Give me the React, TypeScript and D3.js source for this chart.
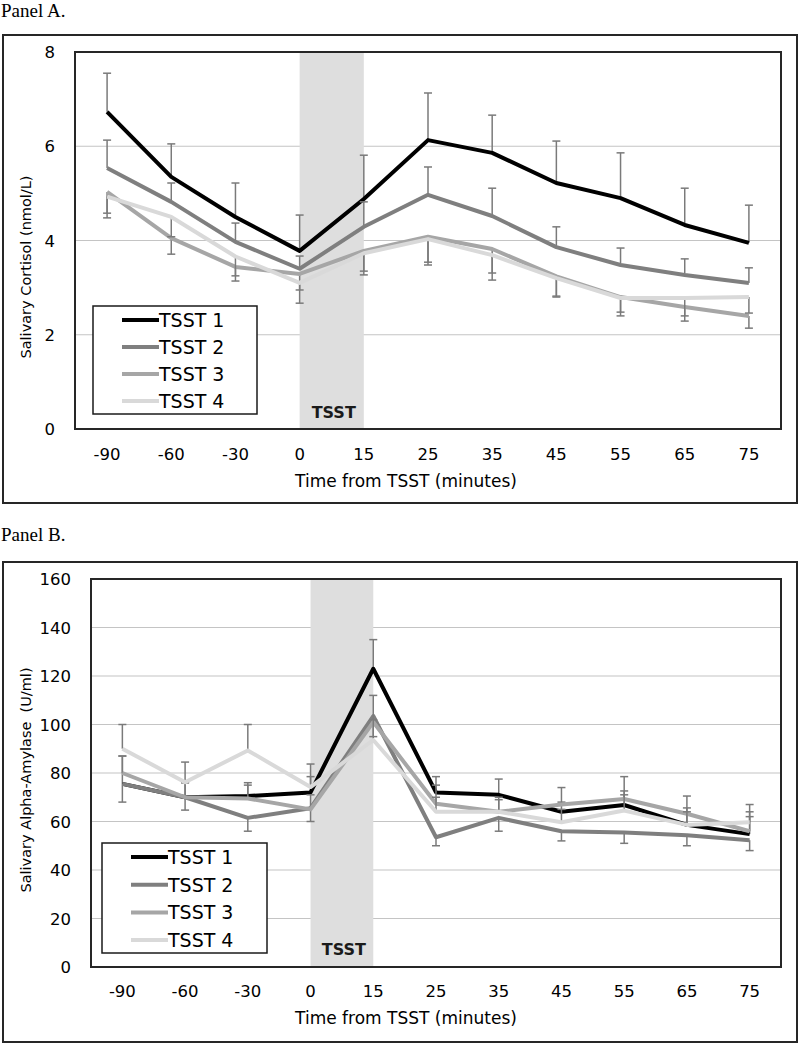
import React, { useRef, useEffect } from 'react';
import * as d3 from 'd3';

// shared categories
const timeLabels = ['-90', '-60', '-30', '0', '15', '25', '35', '45', '55', '65', '75'];
const seriesNames = ['TSST 1', 'TSST 2', 'TSST 3', 'TSST 4'];
const seriesColors = ['#000000', '#7f7f7f', '#a6a6a6', '#d9d9d9'];

// Panel A: salivary cortisol (nmol/L)
const cortisolTicks = [0, 2, 4, 6, 8];
const cortisol1 = [6.73, 5.35, 4.5, 3.78, 4.88, 6.13, 5.86, 5.22, 4.9, 4.33, 3.95];
const cortisol2 = [5.54, 4.82, 3.97, 3.4, 4.29, 4.97, 4.52, 3.86, 3.48, 3.27, 3.1];
const cortisol3 = [5.03, 4.05, 3.44, 3.29, 3.78, 4.08, 3.82, 3.24, 2.8, 2.59, 2.4];
const cortisol4 = [4.93, 4.5, 3.66, 3.1, 3.73, 4.03, 3.69, 3.2, 2.78, 2.78, 2.8];
// error bar end points
const cortisolErr1 = [7.55, 6.05, 5.22, 4.54, 5.81, 7.13, 6.66, 6.11, 5.86, 5.11, 4.75];
const cortisolErr2 = [6.13, 5.22, 4.37, 3.67, 4.82, 5.56, 5.11, 4.29, 3.84, 3.61, 3.42];
const cortisolErr3 = [4.48, 3.71, 3.14, 2.95, 3.27, 3.48, 3.16, 2.8, 2.4, 2.29, 2.14];
const cortisolErr4 = [4.58, 4.08, 3.25, 2.67, 3.35, 3.54, 3.31, 2.82, 2.48, 2.4, 2.46];

// Panel B: salivary alpha-amylase (U/ml)
const amylaseTicks = [0, 20, 40, 60, 80, 100, 120, 140, 160];
const amylase1 = [75.5, 70, 70.5, 72, 123, 72, 71, 64, 66.8, 58.6, 54.8];
const amylase2 = [75.5, 70, 61.5, 65.5, 103.5, 53.5, 61.5, 56, 55.5, 54.3, 52.3];
const amylase3 = [80, 70, 69.5, 65, 101, 67.3, 64, 67, 69.3, 63.2, 56];
const amylase4 = [90, 76.2, 89.3, 74.2, 93.6, 64, 64, 59.7, 64.5, 58.6, 59.7];
const amylaseErr1 = [87, 76, 76, 78.5, 135, 78.5, 77.5, 68, 72.6, 65.6, 62];
const amylaseErr2 = [68, 64.7, 56, 60, 95, 50, 56, 52, 51, 50, 48];
const amylaseErr3 = [87, 76, 75, 71, 112, 75, 70, 74, 78.5, 70.5, 67];
const amylaseErr4 = [100, 84.5, 100, 83.7, 102, 70, 69, 65, 71, 64, 64];

const FONT = '"DejaVu Sans", Verdana, sans-serif';

interface PanelSpec {
  title: string;
  titleY: number;
  frame: { x: number; y: number; w: number; h: number };
  plot: { left: number; top: number; right: number; bottom: number };
  ticks: number[];
  values: number[][];
  errs: number[][];
  yTitle: string;
  yTitleY: number;
  tickLabelRight: number;
  xLabelY: number;
  xTitleY: number;
  legend: { x: number; y: number; w: number; h: number; row0: number; step: number };
  tsstLabelY: number;
}

function drawPanel(svg: d3.Selection<SVGSVGElement, unknown, null, undefined>, p: PanelSpec) {
  const g = svg.append('g');

  g.append('rect')
    .attr('x', p.frame.x).attr('y', p.frame.y)
    .attr('width', p.frame.w).attr('height', p.frame.h)
    .attr('fill', '#fff').attr('stroke', '#262626').attr('stroke-width', 2);

  g.append('text')
    .attr('x', 1).attr('y', p.titleY)
    .attr('font-family', '"Liberation Serif", "Times New Roman", serif')
    .attr('font-size', 19)
    .text(p.title);

  const x = d3.scaleBand<string>()
    .domain(timeLabels)
    .range([p.plot.left, p.plot.right])
    .padding(0);
  const cx = (d: string) => (x(d) as number) + x.bandwidth() / 2;

  const yMax = p.ticks[p.ticks.length - 1];
  const y = d3.scaleLinear().domain([0, yMax]).range([p.plot.bottom, p.plot.top]);

  // gridlines
  g.selectAll('.grid')
    .data(p.ticks.filter(t => t > 0 && t < yMax))
    .enter().append('line')
    .attr('x1', p.plot.left).attr('x2', p.plot.right)
    .attr('y1', d => y(d)).attr('y2', d => y(d))
    .attr('stroke', '#c4c4c4').attr('stroke-width', 1.2);

  // TSST shading
  g.append('rect')
    .attr('x', cx('0')).attr('y', p.plot.top + 1)
    .attr('width', cx('15') - cx('0'))
    .attr('height', p.plot.bottom - p.plot.top - 1)
    .attr('fill', '#dedede');

  g.append('text')
    .attr('x', (cx('0') + cx('15')) / 2 + 2).attr('y', p.tsstLabelY)
    .attr('text-anchor', 'middle')
    .attr('font-family', FONT).attr('font-size', 16).attr('font-weight', 'bold')
    .attr('fill', '#1a1a1a')
    .text('TSST');

  const line = d3.line<number>()
    .x((_, i) => cx(timeLabels[i]))
    .y(d => y(d));

  p.values.forEach((vals, si) => {
    const errs = p.errs[si];
    const eb = g.append('g');
    vals.forEach((v, i) => {
      const xx = cx(timeLabels[i]);
      eb.append('line')
        .attr('x1', xx).attr('x2', xx)
        .attr('y1', y(v)).attr('y2', y(errs[i]))
        .attr('stroke', '#7a7a7a').attr('stroke-width', 1.5);
      eb.append('line')
        .attr('x1', xx - 4).attr('x2', xx + 4)
        .attr('y1', y(errs[i])).attr('y2', y(errs[i]))
        .attr('stroke', '#7a7a7a').attr('stroke-width', 1.5);
    });
    g.append('path')
      .datum(vals)
      .attr('d', line)
      .attr('fill', 'none')
      .attr('stroke', seriesColors[si])
      .attr('stroke-width', 4)
      .attr('stroke-linejoin', 'round');
  });

  // plot border
  g.append('rect')
    .attr('x', p.plot.left).attr('y', p.plot.top)
    .attr('width', p.plot.right - p.plot.left)
    .attr('height', p.plot.bottom - p.plot.top)
    .attr('fill', 'none').attr('stroke', '#262626').attr('stroke-width', 2);

  // y tick labels
  g.selectAll('.ytick')
    .data(p.ticks)
    .enter().append('text')
    .attr('x', p.tickLabelRight)
    .attr('y', d => y(d) + 6)
    .attr('text-anchor', 'end')
    .attr('font-family', FONT).attr('font-size', 16.5)
    .text(d => String(d));

  // x tick labels
  g.selectAll('.xtick')
    .data(timeLabels)
    .enter().append('text')
    .attr('x', d => cx(d))
    .attr('y', p.xLabelY)
    .attr('text-anchor', 'middle')
    .attr('font-family', FONT).attr('font-size', 16.5)
    .text(d => d);

  g.append('text')
    .attr('x', 406).attr('y', p.xTitleY)
    .attr('text-anchor', 'middle')
    .attr('font-family', FONT).attr('font-size', 17)
    .text('Time from TSST (minutes)');

  g.append('text')
    .attr('transform', `translate(31,${p.yTitleY}) rotate(-90)`)
    .attr('text-anchor', 'middle')
    .attr('font-family', FONT).attr('font-size', 14.5)
    .attr('xml:space', 'preserve')
    .style('white-space', 'pre')
    .text(p.yTitle);

  // legend
  const lg = g.append('g');
  lg.append('rect')
    .attr('x', p.legend.x).attr('y', p.legend.y)
    .attr('width', p.legend.w).attr('height', p.legend.h)
    .attr('fill', '#fff').attr('stroke', '#1a1a1a').attr('stroke-width', 1.5);
  seriesNames.forEach((name, i) => {
    const ly = p.legend.row0 + i * p.legend.step;
    lg.append('line')
      .attr('x1', p.legend.x + 29).attr('x2', p.legend.x + 66)
      .attr('y1', ly).attr('y2', ly)
      .attr('stroke', seriesColors[i]).attr('stroke-width', 4);
    lg.append('text')
      .attr('x', p.legend.x + 66).attr('y', ly + 7)
      .attr('font-family', FONT).attr('font-size', 19)
      .text(name);
  });
}

const App: React.FC = () => {
  const svgRef = useRef<SVGSVGElement | null>(null);

  useEffect(() => {
    document.body.style.margin = '0';
    const svg = d3.select(svgRef.current as SVGSVGElement);
    svg.selectAll('*').remove();

    drawPanel(svg, {
      title: 'Panel A.',
      titleY: 17,
      frame: { x: 3, y: 35, w: 794, h: 468 },
      plot: { left: 75, top: 52, right: 781, bottom: 429 },
      ticks: cortisolTicks,
      values: [cortisol1, cortisol2, cortisol3, cortisol4],
      errs: [cortisolErr1, cortisolErr2, cortisolErr3, cortisolErr4],
      yTitle: 'Salivary Cortisol (nmol/L)',
      yTitleY: 267,
      tickLabelRight: 55,
      xLabelY: 460,
      xTitleY: 487,
      legend: { x: 93, y: 306, w: 164, h: 108, row0: 320, step: 27 },
      tsstLabelY: 418,
    });

    drawPanel(svg, {
      title: 'Panel B.',
      titleY: 541,
      frame: { x: 3, y: 562, w: 794, h: 480 },
      plot: { left: 91, top: 579, right: 781, bottom: 967 },
      ticks: amylaseTicks,
      values: [amylase1, amylase2, amylase3, amylase4],
      errs: [amylaseErr1, amylaseErr2, amylaseErr3, amylaseErr4],
      yTitle: 'Salivary Alpha-Amylase  (U/ml)',
      yTitleY: 780,
      tickLabelRight: 71,
      xLabelY: 997,
      xTitleY: 1024,
      legend: { x: 102, y: 843, w: 165, h: 110, row0: 857, step: 27.7 },
      tsstLabelY: 955,
    });
  }, []);

  return <svg ref={svgRef} width={800} height={1044} style={{ display: 'block' }} />;
};

export default App;
